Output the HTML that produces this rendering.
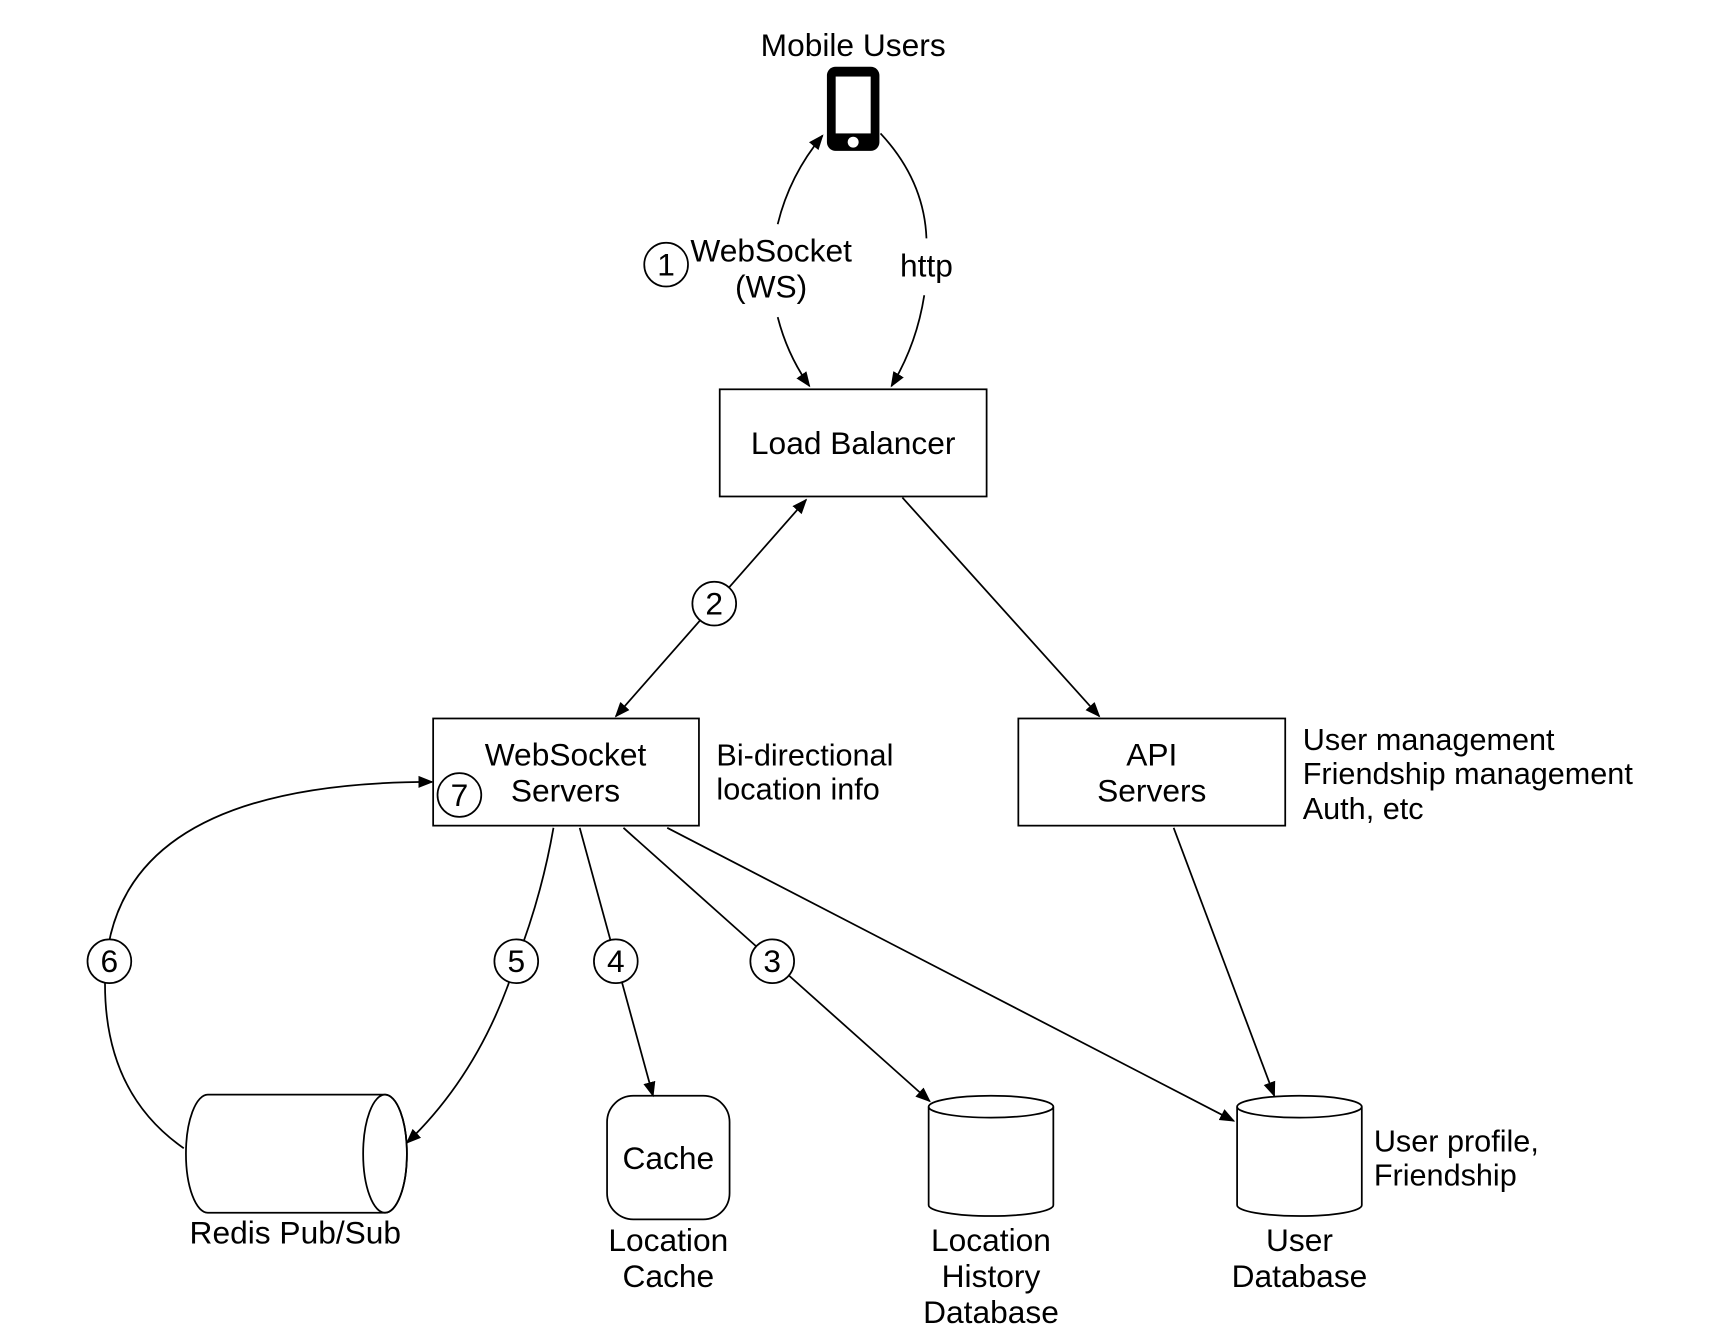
<!DOCTYPE html>
<html><head><meta charset="utf-8"><style>
html,body{margin:0;padding:0;background:#fff;width:1714px;height:1344px;overflow:hidden}
svg{display:block}
text{font-family:"Liberation Sans",Arial,sans-serif;font-size:29px;fill:#000}
</style></head><body>
<svg width="1714" height="1344" viewBox="0 0 1567 1229" preserveAspectRatio="none" xmlns="http://www.w3.org/2000/svg">
<defs>
<marker id="b" viewBox="0 0 10 10" refX="9" refY="5" markerWidth="14" markerHeight="14" markerUnits="userSpaceOnUse" orient="auto-start-reverse">
<path d="M0,1 L10,5 L0,9 z" fill="#000"/></marker>
</defs>
<g fill="none" stroke="#000" stroke-width="1.6">
<rect x="756" y="61" width="48" height="77" rx="8" fill="#000" stroke="none"/>
<rect x="764" y="70" width="32" height="52" fill="#fff" stroke="none"/>
<circle cx="780" cy="130" r="5" fill="#fff" stroke="none"/>
<path d="M711,205 Q722,160 752,124" marker-end="url(#b)"/>
<path d="M711,290 Q720,325 740,353" marker-end="url(#b)"/>
<path d="M805,122 Q845,165 847,218"/>
<path d="M845,270 Q838,315 815,353" marker-end="url(#b)"/>
<circle cx="609" cy="242" r="20"/>
<rect x="658" y="356" width="244" height="98"/>
<path d="M737,457 L563,655" marker-start="url(#b)" marker-end="url(#b)"/>
<circle cx="653" cy="552" r="20" fill="#fff"/>
<path d="M825,455 L1005,655" marker-end="url(#b)"/>
<rect x="396" y="657" width="243" height="98"/>
<circle cx="420" cy="727" r="20"/>
<rect x="931" y="657" width="244" height="98"/>
<path d="M1073,757 L1165,1002" marker-end="url(#b)"/>
<path d="M506,757 Q495,820 472,879 Q440,980 372,1045" marker-end="url(#b)"/>
<circle cx="472" cy="879" r="20" fill="#fff"/>
<path d="M530,757 L597,1002" marker-end="url(#b)"/>
<circle cx="563" cy="879" r="20" fill="#fff"/>
<path d="M570,757 L850,1007" marker-end="url(#b)"/>
<circle cx="706" cy="879" r="20" fill="#fff"/>
<path d="M610,757 L1128,1025" marker-end="url(#b)"/>
<path d="M168,1050 Q96,1000 96,900 Q96,715 395,715" marker-end="url(#b)"/>
<circle cx="100" cy="879" r="20" fill="#fff"/>
<path d="M190,1001 L352,1001 A20,54 0 0 1 352,1109 L190,1109 A20,54 0 0 1 190,1001 z"/>
<ellipse cx="352" cy="1055" rx="20" ry="54"/>
<rect x="555" y="1002" width="112" height="113" rx="24"/>
<path d="M849,1012 L849,1102 A57,10 0 0 0 963,1102 L963,1012"/>
<ellipse cx="906" cy="1012" rx="57" ry="10"/>
<path d="M1131,1012 L1131,1102 A57,10 0 0 0 1245,1102 L1245,1012"/>
<ellipse cx="1188" cy="1012" rx="57" ry="10"/>
</g>
<g text-anchor="middle">
<text x="780" y="51">Mobile Users</text>
<text x="705" y="239">WebSocket</text>
<text x="705" y="272">(WS)</text>
<text x="847" y="253">http</text>
<text x="609" y="252" font-size="23">1</text>
<text x="780" y="415">Load Balancer</text>
<text x="653" y="562" font-size="23">2</text>
<text x="517" y="700">WebSocket</text>
<text x="517" y="733">Servers</text>
<text x="420" y="737" font-size="23">7</text>
<text x="1053" y="700">API</text>
<text x="1053" y="733">Servers</text>
<text x="100" y="889" font-size="23">6</text>
<text x="472" y="889" font-size="23">5</text>
<text x="563" y="889" font-size="23">4</text>
<text x="706" y="889" font-size="23">3</text>
<text x="270" y="1137">Redis Pub/Sub</text>
<text x="611" y="1069">Cache</text>
<text x="611" y="1144">Location</text>
<text x="611" y="1177">Cache</text>
<text x="906" y="1144">Location</text>
<text x="906" y="1177">History</text>
<text x="906" y="1210">Database</text>
<text x="1188" y="1144">User</text>
<text x="1188" y="1177">Database</text>
</g>
<g font-size="28" style="font-size:28px">
<text x="655" y="700" style="font-size:28px">Bi-directional</text>
<text x="655" y="731" style="font-size:28px">location info</text>
<text x="1191" y="686" style="font-size:28px">User management</text>
<text x="1191" y="717" style="font-size:28px">Friendship management</text>
<text x="1191" y="749" style="font-size:28px">Auth, etc</text>
<text x="1256" y="1053" style="font-size:28px">User profile,</text>
<text x="1256" y="1084" style="font-size:28px">Friendship</text>
</g>
</svg>
</body></html>
